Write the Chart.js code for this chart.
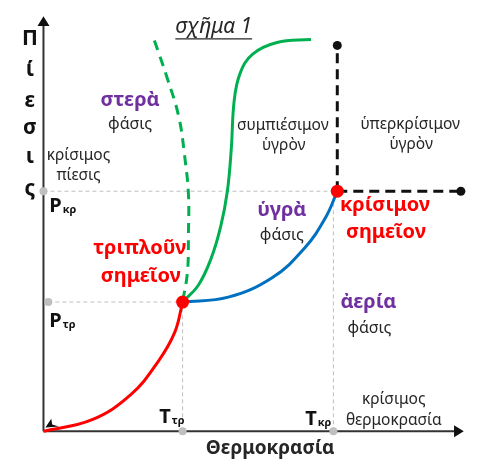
<!DOCTYPE html>
<html>
<head>
<meta charset="utf-8">
<script src="https://cdn.jsdelivr.net/npm/chart.js@4"></script>
<style>
  html, body { margin: 0; background: #fff; }
  #wrap { width: 480px; height: 467px; }
</style>
</head>
<body>
<div id="wrap"><canvas id="chart" width="480" height="467"></canvas></div>
<script>
// phase diagram: temperature (x) vs pressure (y), arbitrary units, origin where axes cross
const triplePoint = [143, 133];
const criticalPoint = [302, 247];

// sublimation curve (solid - gas)
const redT = [0, 50, 90, 118, 135, 143];
const redP = [0, 12, 38, 72, 102, 133];
// vaporisation curve (liquid - gas)
const blueT = [143, 190, 235, 268, 290, 302];
const blueP = [133, 138, 158, 188, 220, 247];
// melting curve (solid - liquid)
const greenT = [143, 159, 172, 182, 189, 193, 196, 202, 215, 240, 275];
const greenP = [133, 150, 177, 210, 247, 290, 340, 368, 388, 400, 403];
// anomalous melting curve (water), dashed
const greenDashT = [114, 127, 139, 145, 149, 149, 148, 143];
const greenDashP = [402, 364, 324, 284, 244, 204, 164, 133];

// supercritical boundary ends
const superTopP = 397;
const superRightT = 429;
// guide dot on the pressure axis for P triple
const ptrGuideT = 5;
// T critical guide
const tkrGuideT = 298;

const pts = (xs, ys) => xs.map((x, i) => ({ x: x, y: ys[i] }));

const RED = '#ff0000', BLUE = '#0070c0', GREEN = '#00b050', PURPLE = '#7030a0', INK = '#262626', GRAY = '#bfbfbf';

const labels = [
  // text, T, P, font, colour
  ['κρίσιμος', 36, 284, '15.5px "Noto Sans"', INK],
  ['πίεσις', 36, 263, '15.5px "Noto Sans"', INK],
  ['στερὰ', 89, 341, 'bold 20px "Noto Sans"', PURPLE],
  ['φάσις', 89, 316, '16px "Noto Sans"', INK],
  ['συμπιέσιμον', 246, 315, '15.5px "Noto Sans"', INK],
  ['ὑγρὸν', 247, 294, '15.5px "Noto Sans"', INK],
  ['ὑπερκρίσιμον', 377, 316, '15.5px "Noto Sans"', INK],
  ['ὑγρὸν', 378, 295, '15.5px "Noto Sans"', INK],
  ['ὑγρὰ', 245, 227, 'bold 20px "Noto Sans"', PURPLE],
  ['φάσις', 245, 201, '16px "Noto Sans"', INK],
  ['κρίσιμον', 351, 233, 'bold 20px "Noto Sans"', RED],
  ['σημεῖον', 352, 205, 'bold 20px "Noto Sans"', RED],
  ['τριπλοῦν', 99, 188, 'bold 20px "Noto Sans"', RED],
  ['σημεῖον', 100, 159, 'bold 20px "Noto Sans"', RED],
  ['ἀερία', 334, 133, 'bold 20px "Noto Sans"', PURPLE],
  ['φάσις', 335, 106, '16px "Noto Sans"', INK],
  ['κρίσιμος', 360, 33, '15.5px "Noto Sans"', INK],
  ['θερμοκρασία', 360, 11, '15.5px "Noto Sans"', INK],
  ['Θερμοκρασία', 233, -18, 'bold 19px "Noto Sans"', INK]
];
const pressureLetters = ['Π', 'ί', 'ε', 'σ', 'ι', 'ς'];
const pressureLetterP = [404, 372, 340, 312, 282, 249];
const subLabels = [
  // main, sub, T (left), P (middle)
  ['P', 'κρ', 6, 231],
  ['P', 'τρ', 6, 113],
  ['T', 'τρ', 119, 14],
  ['T', 'κρ', 269, 12]
];

const decor = {
  id: 'decor',
  beforeDatasetsDraw(chart) {
    const { ctx, scales: { x, y } } = chart;
    const X = v => x.getPixelForValue(v), Y = v => y.getPixelForValue(v);
    ctx.save();
    ctx.strokeStyle = '#333';
    ctx.fillStyle = '#111';
    ctx.lineWidth = 2;
    // axes
    ctx.beginPath();
    ctx.moveTo(X(0), Y(0)); ctx.lineTo(X(0), Y(424));
    ctx.moveTo(X(0), Y(0)); ctx.lineTo(X(428), Y(0));
    ctx.stroke();
    ctx.beginPath();
    ctx.moveTo(X(0), Y(427)); ctx.lineTo(X(0) - 6, Y(417)); ctx.lineTo(X(0) + 6, Y(417)); ctx.closePath();
    ctx.moveTo(X(432), Y(0)); ctx.lineTo(X(422), Y(0) - 6); ctx.lineTo(X(422), Y(0) + 6); ctx.closePath();
    ctx.fill();
    ctx.restore();
  },
  afterDatasetsDraw(chart) {
    const { ctx, scales: { x, y } } = chart;
    const X = v => x.getPixelForValue(v), Y = v => y.getPixelForValue(v);
    ctx.save();
    // small arrow head at origin
    ctx.fillStyle = '#111';
    ctx.beginPath();
    ctx.moveTo(X(2), Y(4));
    ctx.lineTo(X(8), Y(13));
    ctx.lineTo(X(9), Y(7));
    ctx.lineTo(X(16), Y(5));
    ctx.closePath();
    ctx.fill();

    ctx.textAlign = 'center';
    ctx.textBaseline = 'middle';
    labels.forEach(([t, tx, py, font, col]) => {
      ctx.font = font;
      ctx.fillStyle = col;
      ctx.fillText(t, X(tx), Y(py));
    });
    ctx.font = 'bold 21px "Noto Sans"';
    ctx.fillStyle = '#111';
    pressureLetters.forEach((c, i) => ctx.fillText(c, X(-14), Y(pressureLetterP[i])));

    // title
    ctx.font = 'italic 21px "Noto Sans"';
    ctx.fillStyle = INK;
    ctx.fillText('σχῆμα 1', X(175), Y(416));
    const w = ctx.measureText('σχῆμα 1').width;
    ctx.strokeStyle = INK;
    ctx.lineWidth = 1.3;
    ctx.beginPath();
    ctx.moveTo(X(175) - w / 2, Y(416) + 12);
    ctx.lineTo(X(175) + w / 2, Y(416) + 12);
    ctx.stroke();

    ctx.textAlign = 'left';
    subLabels.forEach(([m, s, tx, py]) => {
      ctx.font = 'bold 20px "Noto Sans"';
      ctx.fillStyle = '#111';
      ctx.fillText(m, X(tx), Y(py));
      const mw = ctx.measureText(m).width;
      ctx.font = 'bold 11px "Noto Sans"';
      ctx.fillText(s, X(tx) + mw + 1, Y(py) + 3);
    });
    ctx.restore();
  }
};

const line = (data, color, extra) => Object.assign({
  data: data, showLine: true, borderColor: color, borderWidth: 3,
  pointRadius: 0, tension: 0.4, fill: false
}, extra || {});

const dot = (data, color, r) => ({
  data: data, showLine: false, pointRadius: r, pointBackgroundColor: color,
  backgroundColor: color, pointBorderWidth: 0, borderColor: color
});

const guide = (data) => line(data, GRAY, { borderWidth: 1, borderDash: [4, 3], tension: 0 });

// Chart.js paints the first dataset on top, so marks on top come first
new Chart(document.getElementById('chart'), {
  type: 'scatter',
  data: {
    datasets: [
      dot([{ x: triplePoint[0], y: triplePoint[1] }, { x: criticalPoint[0], y: criticalPoint[1] }], RED, 6.5),
      line(pts(redT, redP), RED),
      line(pts(blueT, blueP), BLUE),
      line(pts(greenT, greenP), GREEN),
      line(pts(greenDashT, greenDashP), GREEN, { borderDash: [10, 7] }),
      dot([{ x: criticalPoint[0], y: superTopP }, { x: superRightT, y: criticalPoint[1] }], '#111', 4.5),
      line([{ x: criticalPoint[0], y: criticalPoint[1] }, { x: criticalPoint[0], y: superTopP }], '#111', { borderDash: [10, 6], tension: 0 }),
      line([{ x: criticalPoint[0], y: criticalPoint[1] }, { x: superRightT, y: criticalPoint[1] }], '#111', { borderDash: [10, 6], tension: 0 }),
      dot([{ x: 0, y: criticalPoint[1] }, { x: ptrGuideT, y: triplePoint[1] },
           { x: triplePoint[0], y: 0 }, { x: tkrGuideT, y: 0 }], GRAY, 4),
      guide([{ x: 0, y: criticalPoint[1] }, { x: criticalPoint[0], y: criticalPoint[1] }]),
      guide([{ x: ptrGuideT, y: triplePoint[1] }, { x: triplePoint[0], y: triplePoint[1] }]),
      guide([{ x: triplePoint[0], y: 0 }, { x: triplePoint[0], y: triplePoint[1] }]),
      guide([{ x: tkrGuideT, y: 0 }, { x: tkrGuideT, y: criticalPoint[1] }])
    ]
  },
  options: {
    responsive: false,
    animation: false,
    layout: { padding: 0 },
    plugins: { legend: { display: false }, tooltip: { enabled: false } },
    scales: {
      x: { type: 'linear', min: -38, max: 442, display: false },
      y: { type: 'linear', min: -30, max: 437, display: false }
    }
  },
  plugins: [decor]
});
</script>
</body>
</html>
